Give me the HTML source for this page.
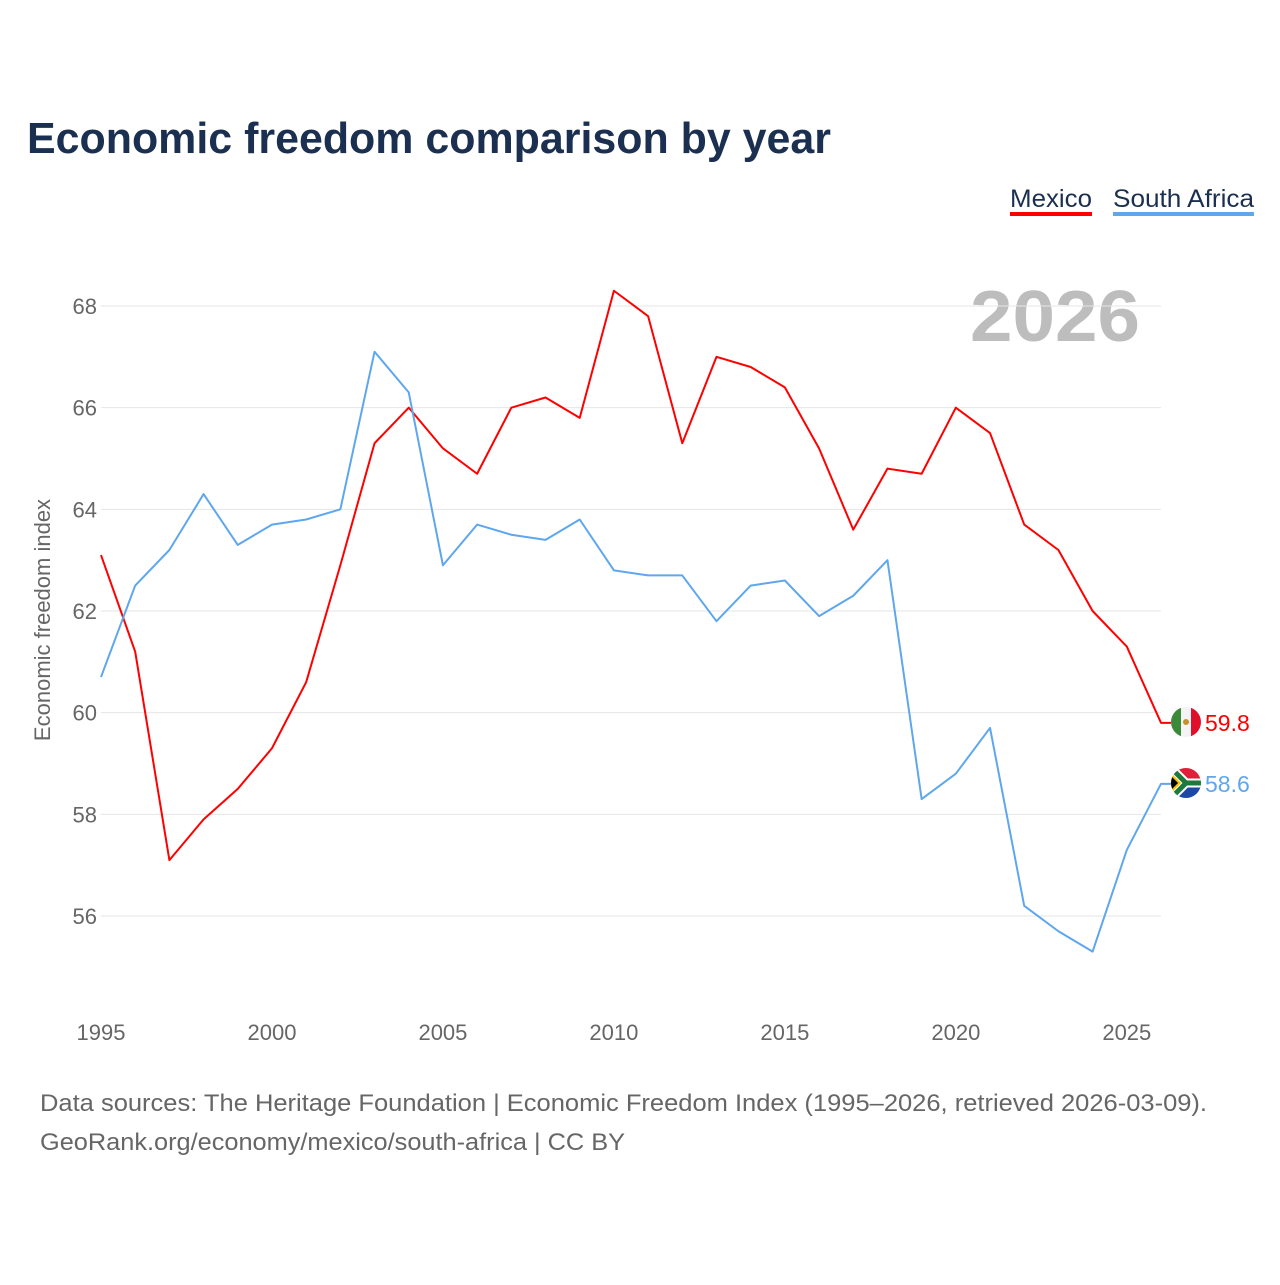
<!DOCTYPE html>
<html><head><meta charset="utf-8"><style>
body{margin:0;background:#fff;font-family:"Liberation Sans",sans-serif}
svg text{font-family:"Liberation Sans",sans-serif}
</style></head><body>
<svg id="chart" width="1280" height="1280" viewBox="0 0 1280 1280">
<defs>
<clipPath id="cm"><circle cx="1186" cy="722" r="15"/></clipPath>
<clipPath id="cs"><circle cx="1186" cy="783" r="15"/></clipPath>
</defs>
<text x="27" y="153" font-size="44" font-weight="bold" fill="#1b3050" textLength="804" lengthAdjust="spacingAndGlyphs">Economic freedom comparison by year</text>
<g>
<text x="1010" y="207" font-size="25" fill="#1b3050" textLength="82" lengthAdjust="spacingAndGlyphs">Mexico</text>
<rect x="1010" y="212" width="82" height="4" fill="#ff0000"/>
<text x="1113" y="207" font-size="25" fill="#1b3050" textLength="141" lengthAdjust="spacingAndGlyphs">South Africa</text>
<rect x="1113" y="212" width="141" height="4" fill="#5ea7ee"/>
</g>
<text x="970" y="341" font-size="72" font-weight="bold" fill="#bdbdbd" textLength="170" lengthAdjust="spacingAndGlyphs">2026</text>
<g id="grid"></g><g id="yt"></g><g id="xt"></g><g id="lines"></g>
<g clip-path="url(#cm)">
<rect x="1171" y="707" width="10" height="30" fill="#3a8a3a"/><rect x="1181" y="707" width="10" height="30" fill="#f4f4f4"/><rect x="1191" y="707" width="10" height="30" fill="#e0102a"/><circle cx="1186" cy="722" r="3" fill="#c8902a"/>
</g>
<g clip-path="url(#cs)">
<rect x="1171" y="768" width="30" height="15" fill="#e0203a"/><rect x="1171" y="783" width="30" height="15" fill="#1c48a8"/>
<path d="M1171,768 L1186,783 L1171,798 Z M1186,783 L1201,783" stroke="#fff" stroke-width="9" fill="none"/>
<path d="M1171,768 L1186,783 L1171,798 M1186,783 L1201,783" stroke="#1e7a3c" stroke-width="5" fill="none"/>
<path d="M1171,773 L1181,783 L1171,793 Z" fill="#f2c100"/><path d="M1171,776 L1178,783 L1171,790 Z" fill="#000"/>
</g>
<text transform="translate(50,620) rotate(-90)" font-size="22" fill="#666" text-anchor="middle">Economic freedom index</text>
<text x="40" y="1111" font-size="24" fill="#666" textLength="1167" lengthAdjust="spacingAndGlyphs">Data sources: The Heritage Foundation | Economic Freedom Index (1995–2026, retrieved 2026-03-09).</text>
<text x="40" y="1150" font-size="24" fill="#666" textLength="585" lengthAdjust="spacingAndGlyphs">GeoRank.org/economy/mexico/south-africa | CC BY</text>
</svg>
<script>
const years=[];for(let y=1995;y<=2026;y++)years.push(y);
const mexico=[63.1,61.2,57.1,57.9,58.5,59.3,60.6,62.9,65.3,66.0,65.2,64.7,66.0,66.2,65.8,68.3,67.8,65.3,67.0,66.8,66.4,65.2,63.6,64.8,64.7,66.0,65.5,63.7,63.2,62.0,61.3,59.8];
const southAfrica=[60.7,62.5,63.2,64.3,63.3,63.7,63.8,64.0,67.1,66.3,62.9,63.7,63.5,63.4,63.8,62.8,62.7,62.7,61.8,62.5,62.6,61.9,62.3,63.0,58.3,58.8,59.7,56.2,55.7,55.3,57.3,58.6];
const yTicks=[56,58,60,62,64,66,68];
const xTicks=[1995,2000,2005,2010,2015,2020,2025];
const NS="http://www.w3.org/2000/svg";
const X=v=>101+(v-1995)*(1060/31);
const Y=v=>306+(68-v)*(610/12);
function mk(tag,attrs,parent,txt){const e=document.createElementNS(NS,tag);for(const k in attrs)e.setAttribute(k,attrs[k]);if(txt!==undefined)e.textContent=txt;document.getElementById(parent).appendChild(e);return e;}
yTicks.forEach(t=>{
 const l=mk('line',{x1:101,x2:1161,y1:Y(t),y2:Y(t),stroke:'#e6e6e6','stroke-width':1},'grid');
 
 
 const tx=mk('text',{x:97,y:Y(t)+8,'font-size':22,fill:'#666','text-anchor':'end'},'yt',t);
 
 
});
xTicks.forEach(t=>{
 const tx=mk('text',{x:X(t),y:1040,'font-size':22,fill:'#666','text-anchor':'middle'},'xt',t);
 
 
});
function series(vals,color,name){
 const last=vals[vals.length-1],lx=X(years[years.length-1]),ly=Y(last);
 const pts=vals.map((v,i)=>X(years[i])+','+Y(v));
 pts.push((lx+10)+','+ly);
 const p=mk('polyline',{points:pts.join(' '),fill:'none',stroke:color,'stroke-width':2,'stroke-linejoin':'round'},'lines');
 
 
 const t=mk('text',{x:lx+44,y:ly+8,'font-size':23,fill:color},'lines',last.toFixed(1));
 
 
}
series(mexico,'#ff0000','mexico');
series(southAfrica,'#5ea7ee','south-africa');
</script>
</body></html>
